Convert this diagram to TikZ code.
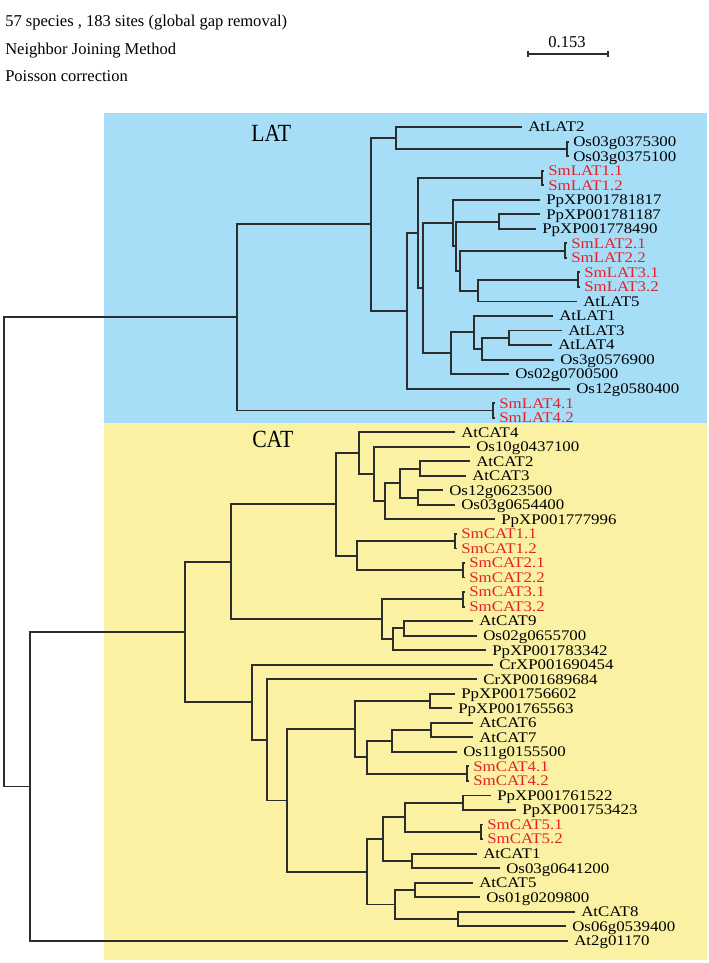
\documentclass[tikz,border=0pt]{standalone}
\usepackage{fontspec}
\setmainfont{Liberation Serif}
\newfontfamily\leaffont{Liberation Serif}[FakeStretch=1.15]
\newfontfamily\cladefont{Liberation Serif}[FakeStretch=0.88]
\usetikzlibrary{calc}
\definecolor{latblue}{RGB}{166,222,248}
\definecolor{catyellow}{RGB}{250,242,162}
\definecolor{smred}{RGB}{232,32,40}
\definecolor{branchgray}{RGB}{45,45,45}
\begin{document}
\begin{tikzpicture}[x=0.75pt,y=-0.75pt]
\tikzstyle{branch}=[draw=branchgray,line width=1.4pt]
\tikzstyle{leaf}=[anchor=west,inner xsep=4.5pt,inner ysep=0pt,text height=7.3pt,text depth=0pt,font=\leaffont\fontsize{11}{13}\selectfont]
\tikzstyle{smleaf}=[leaf,text=smred]
\tikzstyle{info}=[anchor=base west,inner sep=0pt,font=\fontsize{12.4}{14}\selectfont]
\tikzstyle{clade}=[anchor=base west,inner sep=0pt,font=\cladefont\fontsize{18.5}{22}\selectfont]
\useasboundingbox (0,0) rectangle (709,963);
\fill[latblue] (104,113) rectangle (707,423);
\fill[catyellow] (104,423) rectangle (707,960);
\node[info] (species) at (5,27) {57 species , 183 sites (global gap removal)};
\node[info] (method) at (5,55) {Neighbor Joining Method};
\node[info] (correction) at (5,82) {Poisson correction};
\node[info,anchor=base] (scale) at (567,48) {0.153};
\coordinate (sa) at (528,54);
\coordinate (sb) at (608,54);
\draw[branch,line width=1pt] (sa) -- (sb);
\draw[branch,line width=1pt] ([yshift=2pt]sa) -- ([yshift=-2pt]sa);
\draw[branch,line width=1pt] ([yshift=2pt]sb) -- ([yshift=-2pt]sb);
\node[clade] (LAT) at (251,142) {LAT};
\node[clade] (CAT) at (252,447) {CAT};
\foreach \i/\x/\t in {0/522/AtLAT2,1/567/Os03g0375300,2/567/Os03g0375100,5/540/PpXP001781817,
  6/540/PpXP001781187,7/536/PpXP001778490,12/577/AtLAT5,13/553/AtLAT1,14/562/AtLAT3,15/552/AtLAT4,
  16/554/Os3g0576900,17/509/Os02g0700500,18/570/Os12g0580400,
  21/455/AtCAT4,22/470/Os10g0437100,23/470/AtCAT2,24/466/AtCAT3,25/443/Os12g0623500,
  26/455/Os03g0654400,27/495/PpXP001777996,34/473/AtCAT9,35/477/Os02g0655700,36/486/PpXP001783342,
  37/493/CrXP001690454,38/477/CrXP001689684,39/455/PpXP001756602,40/452/PpXP001765563,
  41/473/AtCAT6,42/473/AtCAT7,43/457/Os11g0155500,46/491/PpXP001761522,47/516/PpXP001753423,
  50/477/AtCAT1,51/500/Os03g0641200,52/473/AtCAT5,53/480/Os01g0209800,54/575/AtCAT8,
  55/566/Os06g0539400,56/568/At2g01170}
  \node[leaf] (l\i) at (\x,{127.1+14.53*\i}) {\t};
\foreach \i/\x/\t in {3/542/SmLAT1.1,4/542/SmLAT1.2,8/565/SmLAT2.1,9/565/SmLAT2.2,
  10/578/SmLAT3.1,11/578/SmLAT3.2,19/493/SmLAT4.1,20/493/SmLAT4.2,
  28/455/SmCAT1.1,29/455/SmCAT1.2,30/463/SmCAT2.1,31/463/SmCAT2.2,32/463/SmCAT3.1,33/463/SmCAT3.2,
  44/467/SmCAT4.1,45/467/SmCAT4.2,48/481/SmCAT5.1,49/481/SmCAT5.2}
  \node[smleaf] (l\i) at (\x,{127.1+14.53*\i}) {\t};
\foreach \a/\b in {1/2,3/4,8/9,10/11,19/20,28/29,30/31,32/33,44/45,48/49}{
  \coordinate (p\a) at ($(l\a.west)!.5!(l\b.west)$);
  \draw[branch] ([xshift=1.5pt]l\a.west) -- (l\a.west) -- (l\b.west) -- ([xshift=1.5pt]l\b.west);
}
\foreach \n/\x/\y in {root/4/551.9,lat/237/317.4,out/30/786.45,cat/185/632.1,
  c1/396/138.0,c2/499/221.6,c3/478/290.6,c4/460/270.6,c5/456/246.1,c6/453/222.95,c7/509/337.8,
  c8/482/348.7,c9/474/332.35,c10/451/353.2,c11/423/288.1,c12/418/233.0,c13/407/310.8,c14/371/224.4,
  d1/420/468.6,d2/418/497.65,d3/400/483.1,d4/385/501.25,d5/374/474.0,d6/359/453.1,d7/357/555.7,
  d8/336/504.4,d9/404/628.4,d10/393/639.3,d11/382/619.3,d12/231/561.85,d13/430/701.05,d14/431/730.1,
  d15/392/741.0,d16/367/757.35,d17/355/729.2,d18/463/802.75,d19/405/817.3,d20/412/860.85,
  d21/383/839.1,d22/415/889.95,d23/458/919.0,d24/395/904.5,d25/367/871.8,d26/287/800.5,
  d27/267/739.85,d28/252/702.3}
  \coordinate (\n) at (\x,\y);
\foreach \p/\c in {root/lat,root/out,lat/c14,lat/p19,c14/c1,c14/c13,c1/l0.west,c1/p1,
  c13/c12,c13/l18.west,c12/p3,c12/c11,c11/c6,c11/c10,c6/l5.west,c6/c5,c5/c2,c5/c4,
  c2/l6.west,c2/l7.west,c4/p8,c4/c3,c3/p10,c3/l12.west,c10/c9,c10/l17.west,c9/l13.west,c9/c8,
  c8/c7,c8/l16.west,c7/l14.west,c7/l15.west,
  out/cat,out/l56.west,cat/d12,cat/d28,d12/d8,d12/d11,d8/d6,d8/d7,d6/l21.west,d6/d5,
  d5/l22.west,d5/d4,d4/d3,d4/l27.west,d3/d1,d3/d2,d1/l23.west,d1/l24.west,d2/l25.west,d2/l26.west,
  d7/p28,d7/p30,d11/p32,d11/d10,d10/d9,d10/l36.west,d9/l34.west,d9/l35.west,
  d28/l37.west,d28/d27,d27/l38.west,d27/d26,d26/d17,d26/d25,d17/d13,d17/d16,
  d13/l39.west,d13/l40.west,d16/d15,d16/p44,d15/d14,d15/l43.west,d14/l41.west,d14/l42.west,
  d25/d21,d25/d24,d21/d19,d21/d20,d19/d18,d19/p48,d18/l46.west,d18/l47.west,
  d20/l50.west,d20/l51.west,d24/d22,d24/d23,d22/l52.west,d22/l53.west,d23/l54.west,d23/l55.west}
  \draw[branch] (\p) |- (\c);
\end{tikzpicture}
\end{document}
